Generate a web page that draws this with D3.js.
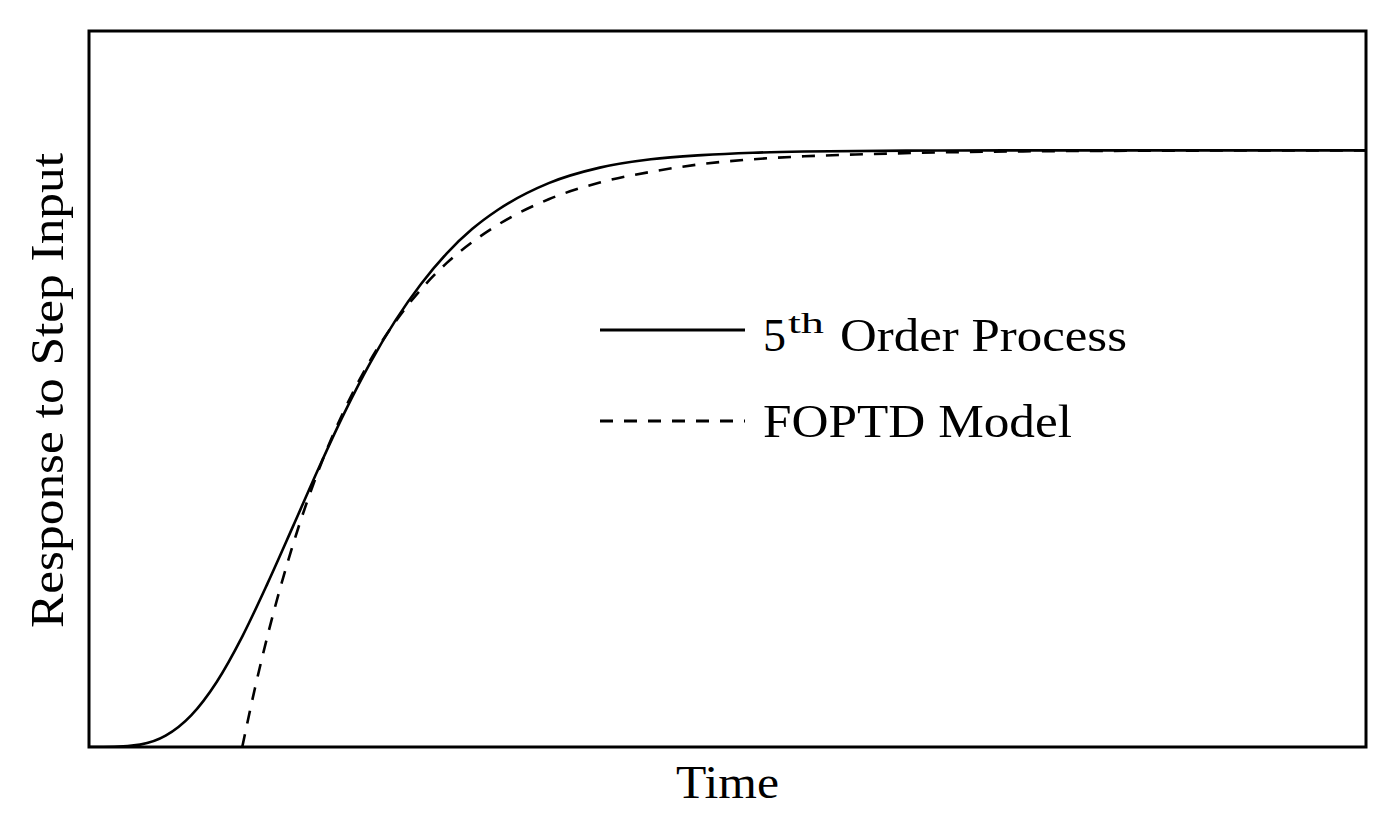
<!DOCTYPE html>
<html>
<head>
<meta charset="utf-8">
<script src="https://cdn.jsdelivr.net/npm/d3@7"></script>
<style>
  html, body { margin: 0; padding: 0; background: #fff; }
  svg { display: block; }
  text { font-family: "Liberation Serif", "Times New Roman", serif; fill: #000; }
</style>
</head>
<body>
<svg id="chart" width="1398" height="822"></svg>
<script>
// ---- Data ----
// 5th order process step response: time, response
const processTime = [0, 0.5, 1, 1.5, 2, 2.5, 3, 3.5, 4, 4.5, 5, 5.5, 6, 6.5, 7, 7.5, 8, 9, 10, 11, 12, 13, 14, 16, 18, 25];
const processResp = [0, 0.0002, 0.004, 0.019, 0.053, 0.109, 0.185, 0.275, 0.371, 0.468, 0.560, 0.643, 0.715, 0.776, 0.827, 0.868, 0.900, 0.945, 0.971, 0.985, 0.992, 0.996, 0.998, 0.9995, 1.0, 1.0];
// FOPTD model step response: time, response
const modelTime = [3, 3.25, 3.5, 4, 4.5, 5, 5.5, 6, 6.5, 7, 7.5, 8, 9, 10, 11, 12, 13, 14, 15, 17, 19, 21, 25];
const modelResp = [0, 0.099, 0.188, 0.341, 0.465, 0.565, 0.647, 0.713, 0.767, 0.811, 0.846, 0.875, 0.918, 0.946, 0.964, 0.977, 0.985, 0.990, 0.993, 0.997, 0.9987, 0.9994, 0.9999];
const legendLabels = ["5th Order Process", "FOPTD Model"];
const xLabel = "Time";
const yLabel = "Response to Step Input";

// ---- Layout ----
const svg = d3.select("#chart");
const plot = { left: 89, top: 31, right: 1366, bottom: 747 };

const x = d3.scaleLinear().domain([0, 25]).range([plot.left, plot.right]);
const y = d3.scaleLinear().domain([0, 1.2]).range([plot.bottom, plot.top]);

svg.append("defs").append("clipPath").attr("id", "clip")
  .append("rect")
  .attr("x", plot.left).attr("y", plot.top)
  .attr("width", plot.right - plot.left).attr("height", plot.bottom - plot.top);

const line = d3.line()
  .x(d => x(d[0]))
  .y(d => y(d[1]))
  .curve(d3.curveMonotoneX);

const processData = processTime.map((t, i) => [t, processResp[i]]);
const modelData = modelTime.map((t, i) => [t, modelResp[i]]);

const g = svg.append("g").attr("clip-path", "url(#clip)");

g.append("path")
  .datum(modelData)
  .attr("d", line)
  .attr("fill", "none")
  .attr("stroke", "#000")
  .attr("stroke-width", 2.6)
  .attr("stroke-dasharray", "13,11");

g.append("path")
  .datum(processData)
  .attr("d", line)
  .attr("fill", "none")
  .attr("stroke", "#000")
  .attr("stroke-width", 2.6);

// Frame
svg.append("rect")
  .attr("x", plot.left).attr("y", plot.top)
  .attr("width", plot.right - plot.left).attr("height", plot.bottom - plot.top)
  .attr("fill", "none")
  .attr("stroke", "#000")
  .attr("stroke-width", 3);

// Axis labels
svg.append("text")
  .attr("x", (plot.left + plot.right) / 2)
  .attr("y", 798)
  .attr("text-anchor", "middle")
  .attr("font-size", 46)
  .attr("textLength", 103)
  .attr("lengthAdjust", "spacingAndGlyphs")
  .text(xLabel);

svg.append("text")
  .attr("transform", "translate(63," + ((153 + 628) / 2) + ") rotate(-90)")
  .attr("text-anchor", "middle")
  .attr("font-size", 46)
  .attr("textLength", 475)
  .attr("lengthAdjust", "spacingAndGlyphs")
  .text(yLabel);

// Legend
const lg = svg.append("g");
lg.append("line")
  .attr("x1", 600).attr("x2", 745).attr("y1", 330).attr("y2", 330)
  .attr("stroke", "#000").attr("stroke-width", 2.8);
lg.append("line")
  .attr("x1", 600).attr("x2", 745).attr("y1", 421).attr("y2", 421)
  .attr("stroke", "#000").attr("stroke-width", 2.8)
  .attr("stroke-dasharray", "13,11");

// "5th Order Process"
const parts = legendLabels[0].match(/^(\d+)(th)\s(.*)$/);
lg.append("text").attr("x", 763).attr("y", 351).attr("font-size", 46).text(parts[1]);
lg.append("text").attr("x", 788).attr("y", 333).attr("font-size", 30)
  .attr("textLength", 36).attr("lengthAdjust", "spacingAndGlyphs").text(parts[2]);
lg.append("text").attr("x", 840).attr("y", 351).attr("font-size", 46)
  .attr("textLength", 287).attr("lengthAdjust", "spacingAndGlyphs").text(parts[3]);

lg.append("text").attr("x", 763).attr("y", 437).attr("font-size", 46)
  .attr("textLength", 309).attr("lengthAdjust", "spacingAndGlyphs").text(legendLabels[1]);
</script>
</body>
</html>
